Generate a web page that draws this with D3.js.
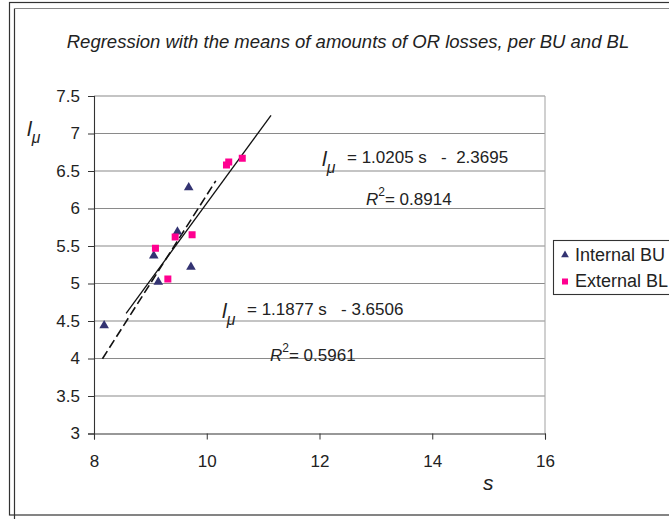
<!DOCTYPE html>
<html>
<head>
<meta charset="utf-8">
<script src="https://cdn.jsdelivr.net/npm/d3@7"></script>
<style>
  body { margin: 0; background: #fff; }
  svg text { font-family: "Liberation Sans", Arial, sans-serif; fill: #222; }
</style>
</head>
<body>
<div id="chart"></div>
<script>
// data
const title = "Regression with the means of amounts of OR losses, per BU and BL";
const xTicks = [8, 10, 12, 14, 16];
const yTicks = [3, 3.5, 4, 4.5, 5, 5.5, 6, 6.5, 7, 7.5];

const internalS = [9.68, 9.48, 9.06, 9.72, 9.14, 8.18];
const internalL = [6.28, 5.69, 5.37, 5.22, 5.02, 4.44];

const externalS = [10.63, 10.39, 10.35, 9.74, 9.44, 9.09, 9.31];
const externalL = [6.67, 6.62, 6.58, 5.65, 5.62, 5.47, 5.06];

// trend lines: slope, intercept, s range
const solidTrend = [1.027, -4.20, 8.57, 11.14];
const dashedTrend = [1.18, -5.62, 8.15, 10.16];

const seriesNames = ["Internal BU", "External BL"];

const width = 669, height = 519;
const svg = d3.select("#chart").append("svg")
  .attr("width", width)
  .attr("height", height);

// frames
svg.append("rect")
  .attr("x", 9.5).attr("y", 2.5)
  .attr("width", 680).attr("height", 512.5)
  .attr("fill", "none").attr("stroke", "#333").attr("stroke-width", 1.2);
svg.append("line")
  .attr("x1", 14.5).attr("y1", 8.5).attr("x2", 14.5).attr("y2", 519)
  .attr("stroke", "#333").attr("stroke-width", 1.2);
svg.append("line")
  .attr("x1", 14.5).attr("y1", 8.5).attr("x2", 669).attr("y2", 8.5)
  .attr("stroke", "#888").attr("stroke-width", 1.2);

const x = d3.scaleLinear().domain([8, 16]).range([94, 545]);
const y = d3.scaleLinear().domain([3, 7.5]).range([433.5, 96]);

// gridlines
svg.append("g")
  .selectAll("line")
  .data(yTicks.filter((d) => d > 3))
  .join("line")
  .attr("x1", x(8)).attr("x2", x(16))
  .attr("y1", (d) => y(d)).attr("y2", (d) => y(d))
  .attr("stroke", "#8a8a8a").attr("stroke-width", 1.1);

// right edge of plot area
svg.append("line")
  .attr("x1", x(16)).attr("x2", x(16))
  .attr("y1", y(7.5)).attr("y2", y(3))
  .attr("stroke", "#aaa").attr("stroke-width", 1.1);

// axes
const xAxis = svg.append("g")
  .attr("transform", `translate(0,${y(3)})`)
  .call(d3.axisBottom(x).tickValues(xTicks).tickSize(6).tickPadding(15).tickFormat(d3.format("d")));
const yAxis = svg.append("g")
  .attr("transform", `translate(${x(8)},0)`)
  .call(d3.axisLeft(y).tickValues(yTicks).tickSize(6).tickPadding(8).tickFormat((d) => String(d)));

[xAxis, yAxis].forEach((g) => {
  g.select(".domain").attr("stroke", "#333").attr("stroke-width", 1.1);
  g.selectAll(".tick line").attr("stroke", "#333");
  g.selectAll(".tick text")
    .attr("fill", "#222")
    .style("font-size", "17px")
    .style("font-family", "Liberation Sans, Arial, sans-serif");
});

// trend lines
function trend(t) {
  return [t[2], t[3]].map((s) => [x(s), y(t[0] * s + t[1])]);
}
const lineGen = d3.line();
svg.append("path")
  .attr("d", lineGen(trend(solidTrend)))
  .attr("fill", "none").attr("stroke", "#111").attr("stroke-width", 1.3);
svg.append("path")
  .attr("d", lineGen(trend(dashedTrend)))
  .attr("fill", "none").attr("stroke", "#111").attr("stroke-width", 1.6)
  .attr("stroke-dasharray", "9,4");

// markers
const triangle = d3.symbol().type(d3.symbolTriangle).size(40);
svg.append("g")
  .selectAll("path")
  .data(internalS.map((s, i) => [s, internalL[i]]))
  .join("path")
  .attr("d", triangle)
  .attr("transform", (d) => `translate(${x(d[0])},${y(d[1])})`)
  .attr("fill", "#333372");

svg.append("g")
  .selectAll("rect")
  .data(externalS.map((s, i) => [s, externalL[i]]))
  .join("rect")
  .attr("x", (d) => x(d[0]) - 3.5)
  .attr("y", (d) => y(d[1]) - 3.5)
  .attr("width", 7).attr("height", 7)
  .attr("fill", "#ff0090");

// title
svg.append("text")
  .attr("x", 348).attr("y", 48)
  .attr("text-anchor", "middle")
  .style("font-size", "18.5px")
  .style("font-style", "italic")
  .text(title);

// axis titles
svg.append("text")
  .attr("x", 483).attr("y", 490)
  .style("font-size", "21px").style("font-style", "italic")
  .text("s");

function lmu(g, px, py, size) {
  const t = g.append("text").attr("x", px).attr("y", py)
    .style("font-size", size + "px").style("font-style", "italic");
  t.append("tspan").text("l");
  t.append("tspan").attr("dy", size * 0.35).style("font-size", (size * 0.75) + "px").text("μ");
}
lmu(svg, 27, 136, 21);

// equations
function equation(px, py, text) {
  lmu(svg, px, py + 3, 21);
  svg.append("text").attr("x", px + 25).attr("y", py)
    .style("font-size", "17px")
    .attr("xml:space", "preserve")
    .text(text);
}
equation(322, 163, "= 1.0205 s   -  2.3695");
equation(222, 315, "= 1.1877 s   - 3.6506");

function rsq(px, py, val) {
  const t = svg.append("text").attr("x", px).attr("y", py).style("font-size", "17px");
  t.append("tspan").style("font-style", "italic").text("R");
  t.append("tspan").attr("dy", -9).style("font-size", "12px").text("2");
  t.append("tspan").attr("dy", 9).text("= " + val);
}
rsq(366, 205, "0.8914");
rsq(270, 361, "0.5961");

// legend
const legend = svg.append("g");
legend.append("rect")
  .attr("x", 553.5).attr("y", 240.5)
  .attr("width", 130).attr("height", 54)
  .attr("fill", "#fff").attr("stroke", "#333").attr("stroke-width", 1.1);
legend.append("path")
  .attr("d", d3.symbol().type(d3.symbolTriangle).size(26))
  .attr("transform", "translate(565,255)")
  .attr("fill", "#333372");
legend.append("rect")
  .attr("x", 562).attr("y", 278.5).attr("width", 6).attr("height", 6)
  .attr("fill", "#ff0090");
legend.selectAll("text.lg")
  .data(seriesNames)
  .join("text")
  .attr("class", "lg")
  .attr("x", 575)
  .attr("y", (d, i) => 261 + i * 26)
  .style("font-size", "18px")
  .text((d) => d);
</script>
</body>
</html>
